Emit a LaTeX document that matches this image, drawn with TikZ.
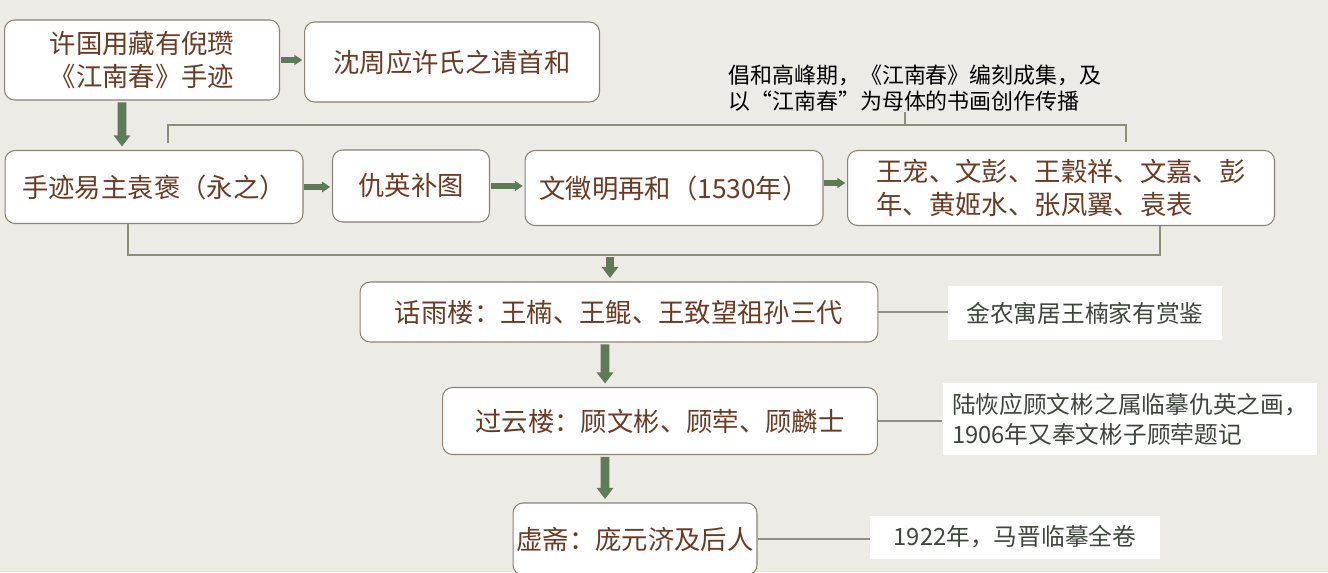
\documentclass[tikz,border=0pt]{standalone}
\usepackage{fontspec}
\newfontfamily\cjk{Noto Sans CJK SC}
\usetikzlibrary{arrows.meta}
\definecolor{bg}{HTML}{EDEBE6}
\definecolor{boxline}{HTML}{8C8276}
\definecolor{boxtext}{HTML}{6B3B22}
\definecolor{notetext}{HTML}{3E463C}
\definecolor{flowgreen}{HTML}{5F7A57}
\definecolor{linkgrey}{HTML}{8F8F86}
\definecolor{bracegreen}{HTML}{8C9070}

\begin{document}
\begin{tikzpicture}[x=0.02cm, y=-0.02cm,
    box/.style={rectangle, draw=boxline, fill=white, rounded corners=0.2cm,
                line width=0.6pt, inner sep=0pt, align=center, text=boxtext,
                font=\cjk\fontsize{15pt}{19pt}\selectfont},
    note/.style={rectangle, fill=white, inner sep=0pt, align=left, text=notetext,
                 font=\cjk\fontsize{13.5pt}{17pt}\selectfont},
    flow/.style={draw=flowgreen, line width=5pt, shorten <=1pt, shorten >=2pt,
                 -{Triangle[width=0.32cm,length=0.22cm]}},
    flowh/.style={draw=flowgreen, line width=3.2pt, shorten <=0.5pt, shorten >=1pt,
                  -{Triangle[width=0.2cm,length=0.16cm]}},
    link/.style={draw=linkgrey, line width=0.8pt},
    brace/.style={draw=bracegreen, line width=0.8pt}]
    \useasboundingbox (0,0) rectangle (1328,572);
    \fill[bg] (0,0) rectangle (1328,572);

    \node[box, minimum width=5.5cm, minimum height=1.6cm] (src) at (142,60)
      {许国用藏有倪瓒\\《江南春》手迹};
    \node[box, minimum width=5.9cm, minimum height=1.6cm] (shen) at (452,62)
      {沈周应许氏之请首和};
    \node[box, minimum width=5.96cm, minimum height=1.46cm] (yuan) at (154,187)
      {手迹易主袁褒（永之）};
    \node[box, minimum width=3.14cm, minimum height=1.44cm] (qiu) at (411,186)
      {仇英补图};
    \node[box, minimum width=5.96cm, minimum height=1.5cm] (wen) at (674,188)
      {文徵明再和（1530年）};
    \node[box, minimum width=8.54cm, minimum height=1.5cm, align=left] (group) at (1061,188)
      {王宠、文彭、王穀祥、文嘉、彭\\年、黄姬水、张凤翼、袁表};
    \node[font=\cjk\fontsize{12.5pt}{15pt}\selectfont, align=left, inner sep=0pt] (peak) at (915,88)
      {倡和高峰期，《江南春》编刻成集，及\\以“江南春”为母体的书画创作传播};

    \node[box, minimum width=10.36cm, minimum height=1.2cm] (hua) at (619,312)
      {话雨楼：王楠、王鲲、王致望祖孙三代};
    \node[box, minimum width=8.7cm, minimum height=1.34cm] (guo) at (660,421)
      {过云楼：顾文彬、顾荦、顾麟士};
    \node[box, minimum width=4.88cm, minimum height=1.44cm] (xu) at (635,539)
      {虚斋：庞元济及后人};

    \node[note, minimum width=5.48cm, minimum height=1.08cm] (jin) at (1085,313)
      {金农寓居王楠家有赏鉴};
    \node[note, minimum width=7.5cm, minimum height=1.44cm] (lu) at (1130,419)
      {陆恢应顾文彬之属临摹仇英之画，\\1906年又奉文彬子顾荦题记};
    \node[note, minimum width=5.8cm, minimum height=0.86cm] (ma) at (1015,537)
      {1922年，马晋临摹全卷};

    \coordinate (top) at (905,125);
    \coordinate (join) at (610,255);

    \draw[flowh] (src.east) -- (src.east -| shen.west);
    \draw[flow] ([xshift=-0.4cm]src.south) -- ([xshift=-0.64cm]yuan.north);
    \draw[flowh] (yuan.east) -- (yuan.east -| qiu.west);
    \draw[flowh] (qiu.east) -- (qiu.east -| wen.west);
    \draw[flowh] ([yshift=0.1cm]wen.east) -- ([yshift=0.1cm]wen.east -| group.west);

    \draw[brace] ([xshift=0.28cm,yshift=0.14cm]yuan.north) |- (top)
      -| ([xshift=1.3cm,yshift=0.16cm]group.north);
    \draw[brace] (top) -- (top |- peak.south);
    \draw[brace] ([xshift=-0.52cm]yuan.south) |- (join)
      -| ([xshift=1.98cm]group.south);

    \draw[flow] (join) -- (join |- hua.north);
    \draw[flow] ([xshift=-0.28cm]hua.south) -- ([xshift=-1.1cm]guo.north);
    \draw[flow] ([xshift=-1.1cm]guo.south) -- ([xshift=-0.6cm]xu.north);

    \draw[link] (hua.east) -- (hua.east -| jin.west);
    \draw[link] (guo.east) -- (guo.east -| lu.west);
    \draw[link] (xu.east) -- (xu.east -| ma.west);
  \end{tikzpicture}
\end{document}
